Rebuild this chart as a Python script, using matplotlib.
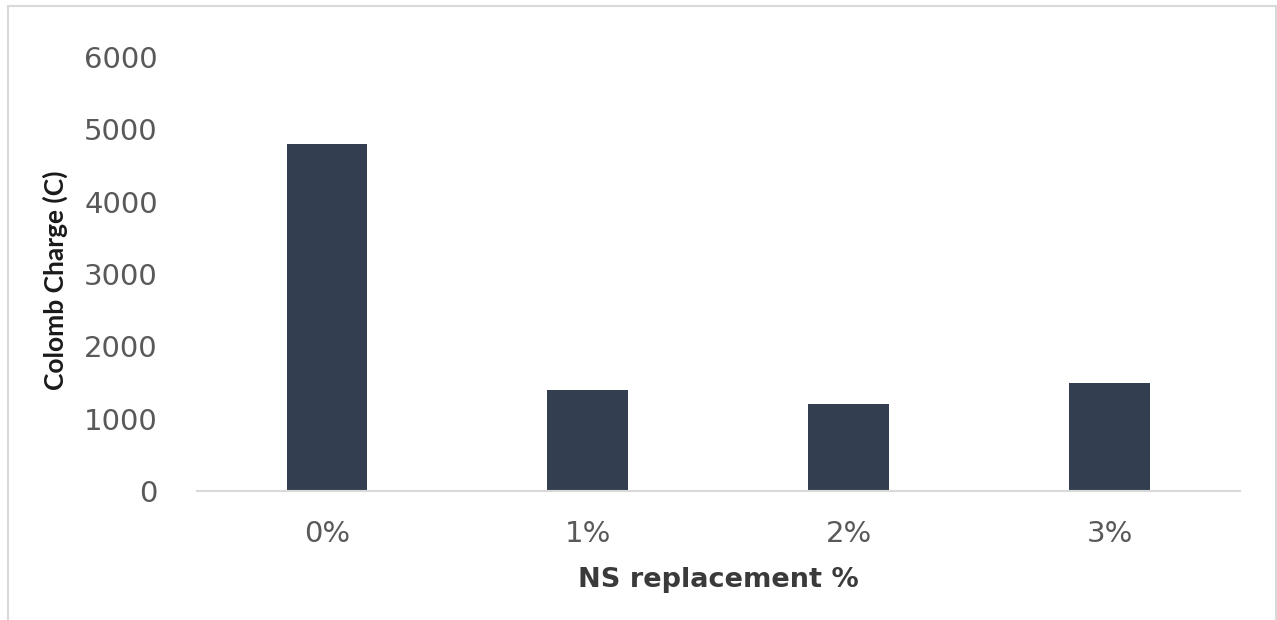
import matplotlib
matplotlib.use("Agg")
import matplotlib.pyplot as plt
from matplotlib.patches import Rectangle

categories = ["0%", "1%", "2%", "3%"]
charge = [4800, 1400, 1200, 1500]
y_ticks = [0, 1000, 2000, 3000, 4000, 5000, 6000]

fig = plt.figure(figsize=(12.77, 6.2), dpi=100, facecolor="white")
ax = fig.add_axes([0.154, 0.208, 0.817, 0.700])

# outer chart frame, like the Excel chart area border
fig.patches.append(Rectangle((8 / 1277, -0.05), (1276 - 8) / 1277, 1.05 - 6 / 620,
                             transform=fig.transFigure, fill=False,
                             edgecolor="#D9D9D9", lw=1.5, zorder=0))

x = range(len(categories))
ax.bar(x, charge, width=0.31, color="#333F50", edgecolor="none")
ax.set_xlim(-0.5, len(categories) - 0.5)
ax.set_ylim(0, 6000)
ax.set_yticks(y_ticks)
ax.set_xticks(list(x))
ax.set_xticklabels(categories)

for s in ["top", "right", "left"]:
    ax.spines[s].set_visible(False)
ax.spines["bottom"].set_color("#D9D9D9")
ax.spines["bottom"].set_linewidth(1.5)
ax.tick_params(axis="both", length=0, labelsize=21, labelcolor="#595959")
ax.tick_params(axis="y", pad=28)
ax.tick_params(axis="x", pad=21)
for tl in ax.get_xticklabels() + ax.get_yticklabels():
    tl.set_fontfamily("DejaVu Sans")

fig.text(718 / 1277, 1 - 580 / 620, "NS replacement %", ha="center", va="center",
         fontsize=19.5, fontweight="bold", family="DejaVu Sans", color="#3A3A3A")
fig.text(0.0435, 0.548, "Colomb Charge (C)", rotation=90, ha="center", va="center",
         fontsize=19, fontweight="bold", family=["Lato", "DejaVu Sans"],
         color="#1A1A1A")

fig.savefig("out.png", dpi=100, facecolor="white")
